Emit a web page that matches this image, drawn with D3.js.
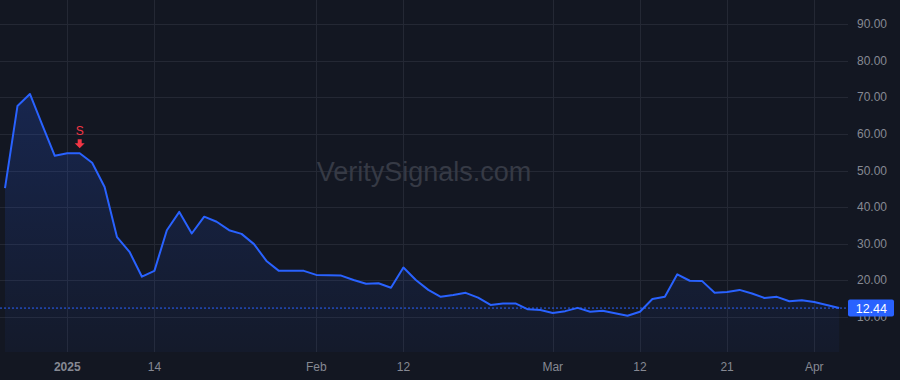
<!DOCTYPE html>
<html><head><meta charset="utf-8">
<script src="https://cdn.jsdelivr.net/npm/d3@7/dist/d3.min.js"></script>
<style>
html,body{margin:0;padding:0;background:#131722;}
svg{display:block;font-family:"Liberation Sans",Arial,sans-serif;}
</style></head><body>
<svg id="c" width="900" height="380"></svg>
<script>
const dates = ["2024-12-24","2024-12-26","2024-12-27","2024-12-30","2024-12-31",
"2025-01-02","2025-01-03","2025-01-06","2025-01-07","2025-01-08","2025-01-10","2025-01-13","2025-01-14","2025-01-15","2025-01-16","2025-01-17","2025-01-21","2025-01-22","2025-01-23","2025-01-24","2025-01-27","2025-01-28","2025-01-29","2025-01-30","2025-01-31",
"2025-02-03","2025-02-04","2025-02-05","2025-02-06","2025-02-07","2025-02-10","2025-02-11","2025-02-12","2025-02-13","2025-02-14","2025-02-18","2025-02-19","2025-02-20","2025-02-21","2025-02-24","2025-02-25","2025-02-26","2025-02-27","2025-02-28",
"2025-03-03","2025-03-04","2025-03-05","2025-03-06","2025-03-07","2025-03-10","2025-03-11","2025-03-12","2025-03-13","2025-03-14","2025-03-17","2025-03-18","2025-03-19","2025-03-20","2025-03-21","2025-03-24","2025-03-25","2025-03-26","2025-03-27","2025-03-28","2025-03-31",
"2025-04-01","2025-04-02","2025-04-03"];
const values = [45.2,67.6,70.9,62.4,54.0,
54.7,54.7,52.1,45.5,31.8,27.8,21.0,22.6,33.7,38.7,32.8,37.4,36.0,33.7,32.7,29.9,25.3,22.6,22.6,22.6,
21.5,21.4,21.3,20.1,19.1,19.2,18.0,23.5,20.1,17.4,15.5,16.0,16.6,15.3,13.3,13.7,13.7,12.1,11.9,
11.1,11.6,12.5,11.45,11.7,11.0,10.35,11.45,14.9,15.5,21.65,19.9,19.8,16.6,16.8,17.4,16.4,15.2,15.5,14.3,
14.6,14.1,13.3,12.44];
const yTicks = [10,20,30,40,50,60,70,80,90];
const xTickDates = ["2025-01-02","2025-01-14","2025-02-03","2025-02-12","2025-03-03","2025-03-12","2025-03-21","2025-04-01"];
const xTickLabels = ["2025","14","Feb","12","Mar","12","21","Apr"];
const signalDates = ["2025-01-03"];
const signalLabels = ["S"];
const lastPrice = 12.44;

const W = 900, H = 380, plotR = 848, plotB = 352;
const svg = d3.select("#c");
const x = d3.scaleLinear().domain([0, dates.length - 1]).range([5, 5 + 12.45 * (dates.length - 1)]);
const y = d3.scaleLinear().domain([10, 90]).range([317, 24]);

svg.append("rect").attr("width", W).attr("height", H).attr("fill", "#131722");

const defs = svg.append("defs");
const g = defs.append("linearGradient").attr("id", "fillg").attr("x1", 0).attr("y1", 0).attr("x2", 0).attr("y2", 1)
  .attr("gradientUnits", "userSpaceOnUse").attr("y1", y(71)).attr("y2", plotB);
g.append("stop").attr("offset", 0).attr("stop-color", "#2962ff").attr("stop-opacity", 0.2);
g.append("stop").attr("offset", 1).attr("stop-color", "#2962ff").attr("stop-opacity", 0.04);

// grid
const grid = svg.append("g");
grid.selectAll("line.h").data(yTicks).join("line")
  .attr("x1", 0).attr("x2", plotR).attr("y1", d => Math.round(y(d)) + 0.5).attr("y2", d => Math.round(y(d)) + 0.5)
  .attr("stroke", "#242834").attr("stroke-width", 1);
grid.selectAll("line.v").data(xTickDates).join("line")
  .attr("x1", d => Math.round(x(dates.indexOf(d))) + 0.5).attr("x2", d => Math.round(x(dates.indexOf(d))) + 0.5)
  .attr("y1", 0).attr("y2", plotB).attr("stroke", "#242834").attr("stroke-width", 1);

// watermark
svg.append("text").attr("x", 424).attr("y", 181).attr("text-anchor", "middle")
  .attr("font-size", 27).attr("fill", "#363a45").text("VeritySignals.com");

// area
const idx = values.map((v, i) => i);
svg.append("path").datum(idx)
  .attr("d", d3.area().x(i => x(i)).y0(plotB).y1(i => y(values[i])))
  .attr("fill", "url(#fillg)");
svg.append("path").datum(idx)
  .attr("d", d3.line().x(i => x(i)).y(i => y(values[i])))
  .attr("fill", "none").attr("stroke", "#2962ff").attr("stroke-width", 2).attr("stroke-linejoin", "round");

// last price line
svg.append("line").attr("x1", 0).attr("x2", plotR).attr("y1", y(lastPrice)).attr("y2", y(lastPrice))
  .attr("stroke", "#2962ff").attr("stroke-width", 1).attr("stroke-dasharray", "2,2");

// signals
signalDates.forEach((d, k) => {
  const i = dates.indexOf(d);
  const cx = x(i), vy = y(values[i]);
  svg.append("text").attr("x", cx).attr("y", vy - 18).attr("text-anchor", "middle")
    .attr("font-size", 12).attr("fill", "#f23645").text(signalLabels[k]);
  svg.append("path")
    .attr("d", `M${cx-2},${vy-14} h4 v4 h3 l-5,5 l-5,-5 h3 z`)
    .attr("fill", "#f23645");
});

// y axis labels
svg.append("g").selectAll("text").data(yTicks).join("text")
  .attr("x", 887).attr("y", d => y(d) + 4).attr("text-anchor", "end")
  .attr("font-size", 12).attr("fill", "#868993").text(d => d.toFixed(2));

// price label
const py = y(lastPrice);
svg.append("rect").attr("x", plotR).attr("y", py - 8.5).attr("width", 46).attr("height", 17).attr("rx", 2)
  .attr("fill", "#2962ff");
svg.append("text").attr("x", 887).attr("y", py + 4.5).attr("text-anchor", "end")
  .attr("font-size", 12.5).attr("fill", "#ffffff").text(lastPrice.toFixed(2));

// x axis labels
svg.append("g").selectAll("text").data(xTickDates).join("text")
  .attr("x", d => x(dates.indexOf(d))).attr("y", 371).attr("text-anchor", "middle")
  .attr("font-size", 12).attr("font-weight", (d, i) => xTickLabels[i] === "2025" ? "bold" : "normal")
  .attr("fill", "#868993").text((d, i) => xTickLabels[i]);
</script>
</body></html>
